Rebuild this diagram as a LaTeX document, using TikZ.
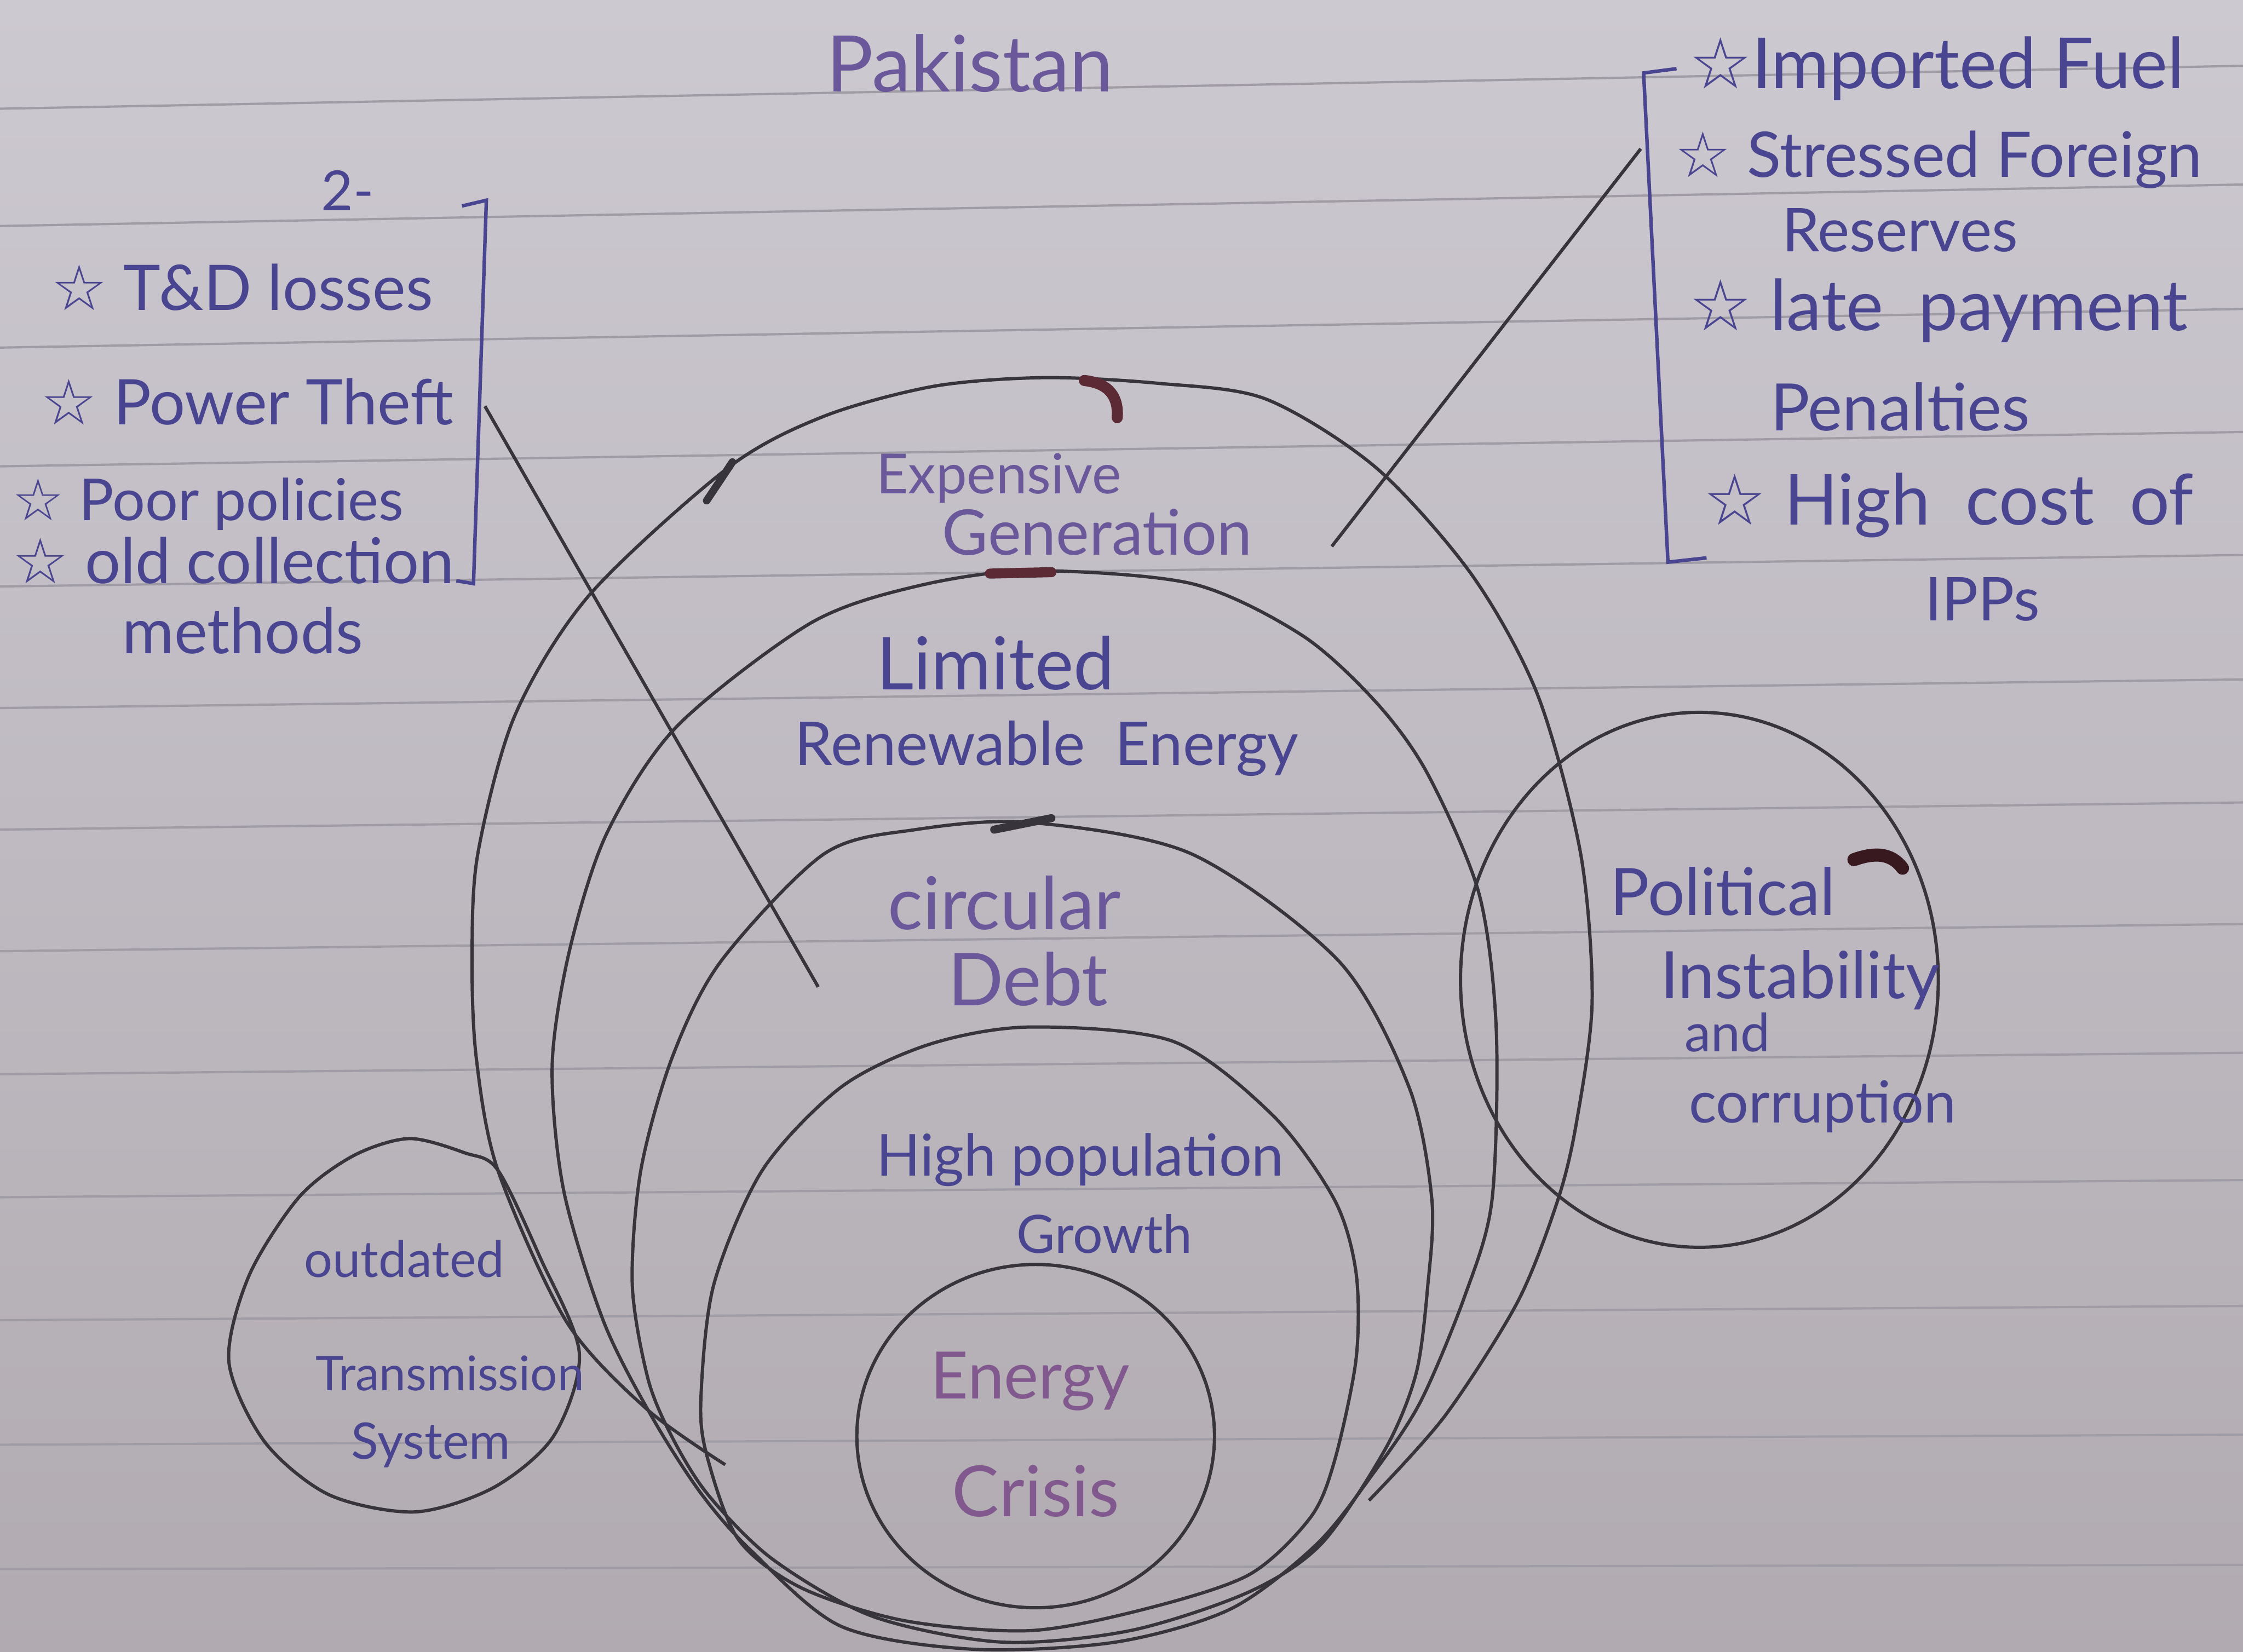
\documentclass[tikz,border=0pt]{standalone}
\usepackage{fontspec}
\setmainfont{Lato}
\newfontfamily\starfont{DejaVu Sans}
\usetikzlibrary{positioning}

\definecolor{paperTop}{HTML}{CDC9D1}
\definecolor{paperBot}{HTML}{B1ABB1}
\definecolor{ruleGray}{HTML}{A09CA6}
\definecolor{pencil}{HTML}{38343C}
\definecolor{inkBlue}{HTML}{4A4590}
\definecolor{inkViolet}{HTML}{6A589A}
\definecolor{inkPlum}{HTML}{82598F}
\definecolor{smudge}{HTML}{5C2A34}

\newcommand{\penfont}[1]{\fontsize{#1}{#1}\selectfont}
\newcommand{\bul}{{\starfont ☆}}

\tikzset{
  ruled/.style={ruleGray, line width=0.45pt},
  pen/.style={pencil, line width=0.65pt},
  inkline/.style={inkBlue, line width=0.7pt},
  lbl/.style={anchor=base west, inner sep=0pt, text=inkBlue},
}

\begin{document}
\begin{tikzpicture}[x=0.01cm,y=-0.01cm]
 \useasboundingbox (0,0) rectangle (1568,1154.7);
 \shade[top color=paperTop, bottom color=paperBot] (0,0) rectangle (1568,1154.7);
 \foreach \ya/\yb in {76/46,158/129,243/216,326/302,410/388,495/475,580/561,665/646,751/736,837/825,923/913,1010/1003,1097/1094}
   \draw[ruled] (0,\ya) -- (1568,\yb);

 % nested rings
 \draw[pen] plot[smooth] coordinates {(507,1024) (452,985) (396,924) (348,818) (333,740) (330,670) (334,597) (360,500) (412,416) (509,327) (576,291) (653,270) (730,264) (810,268) (885,279) (962,327) (1029,402) (1075,486) (1105,597) (1113,700) (1102,785) (1089,839) (1061,910) (1010,990) (957,1049)};
 \draw[pen] plot[smooth cycle] coordinates {(720,399) (833,408) (910,444) (962,491) (998,541) (1034,625) (1046,720) (1043,839) (1024,906) (993,980) (960,1030) (920,1080) (860,1125) (780,1148) (680,1153) (588,1137) (525,1084) (490,1044) (456,991) (422,924) (394,832) (386,745) (398,665) (424,583) (473,508) (566,436) (640,410)};
 \draw[pen] plot[smooth cycle] coordinates {(720,575) (833,597) (936,672) (985,760) (1001,839) (998,900) (990,960) (969,1012) (924,1079) (873,1113) (790,1140) (700,1148) (610,1130) (540,1090) (495,1045) (470,1005) (453,964) (442,898) (448,818) (470,739) (504,672) (576,597) (640,580)};
 \draw[pen] plot[smooth cycle] coordinates {(720,718) (820,728) (890,780) (933,839) (948,890) (948,950) (933,1021) (916,1061) (873,1101) (800,1125) (720,1140) (632,1133) (560,1110) (516,1076) (494,1017) (490,977) (499,898) (533,818) (588,760) (650,730)};
 \draw[pen] (724,1004) ellipse [x radius=125, y radius=120];

 % side circles
 \draw[pen] (1188,685) ellipse [x radius=167, y radius=187];
 \draw[pen] plot[smooth cycle] coordinates {(160,952) (174,892) (209,837) (247,808) (286,796) (325,806) (348,818) (378,880) (405,946) (387,1004) (345,1040) (290,1057) (230,1045) (185,1008)};

 % ink smudges
 \draw[smudge, line width=2.2pt, line cap=round] (758,266) .. controls (776,268) and (782,278) .. (781,292);
 \draw[smudge, line width=2pt, line cap=round] (692,401) -- (735,400);
 \draw[pencil, line width=1.6pt, line cap=round] (695,580) -- (735,572);
 \draw[pencil, line width=1.5pt, line cap=round] (494,350) -- (512,323);
 \draw[smudge!60!black, line width=2.6pt, line cap=round] (1296,601) .. controls (1310,596) and (1322,596) .. (1330,607);

 % brackets and pointers
 \coordinate (lbTop) at (340,140);
 \coordinate (lbBot) at (331,408);
 \draw[inkline] (323,144) -- (lbTop) -- (lbBot) -- (319,406);
 \coordinate (rbTop) at (1149,51);
 \coordinate (rbBot) at (1166,393);
 \draw[inkline] (1172,48) -- (rbTop) -- (rbBot) -- (1193,390);
 \coordinate (theftTip) at (339,284);
 \coordinate (debtTip) at (572,690);
 \draw[pen] (theftTip) -- (debtTip);
 \coordinate (genTip) at (931,382);
 \coordinate (rbTip) at (1147,104);
 \draw[pen] (genTip) -- (rbTip);

 % titles and lists
 \node[lbl, text=inkViolet, font=\penfont{15.5}] (pak) at (577,64) {Pakistan};
 \node[lbl, font=\penfont{11}] (two) at (224,147) {2-};
 \node[lbl, font=\penfont{12.5}] (tdl) at (35,217) {\bul\ T\&D losses};
 \node[lbl, font=\penfont{12.5}] (theft) at (28,297) {\bul\ Power Theft};
 \node[lbl, font=\penfont{11.5}] (policy) at (8,364) {\bul\ Poor policies};
 \node[lbl, font=\penfont{12.5}] (collect) at (8,408) {\bul\ old collection};
 \node[lbl, font=\penfont{12.5}] (method) at (85,457) {methods};
 \node[lbl, font=\penfont{14}] (fuel) at (1180,62) {\bul Imported Fuel};
 \node[lbl, font=\penfont{12.5}] (forex) at (1170,124) {\bul\ Stressed Foreign};
 \node[lbl, font=\penfont{12}] (reserve) at (1245,176) {Reserves};
 \node[lbl, font=\penfont{14}] (latepay) at (1180,231) {\bul\ late\enspace payment};
 \node[lbl, font=\penfont{13}] (penalty) at (1237,301) {Penalties};
 \node[lbl, font=\penfont{14}] (highcost) at (1190,367) {\bul\ High\enspace cost\enspace of};
 \node[lbl, font=\penfont{12}] (ipp) at (1345,434) {IPPs};

 % ring labels
 \node[lbl, text=inkViolet, font=\penfont{11}] (exp) at (612,345) {Expensive};
 \node[lbl, text=inkViolet, font=\penfont{12.5}] (gen) at (658,388) {Generation};
 \node[lbl, font=\penfont{14.5}] (lim) at (612,482) {Limited};
 \node[lbl, font=\penfont{12}] (renew) at (555,535) {Renewable\enspace Energy};
 \node[lbl, text=inkViolet, font=\penfont{14.5}] (circ) at (620,650) {circular};
 \node[lbl, text=inkViolet, font=\penfont{14.5}] (debt) at (662,703) {Debt};
 \node[lbl, font=\penfont{11.5}] (pop) at (612,822) {High population};
 \node[lbl, font=\penfont{10.5}] (growth) at (710,876) {Growth};
 \node[lbl, text=inkPlum, font=\penfont{13}] (energy) at (650,978) {Energy};
 \node[lbl, text=inkPlum, font=\penfont{14}] (crisis) at (665,1060) {Crisis};
 \node[lbl, font=\penfont{13}] (pol) at (1125,640) {Political};
 \node[lbl, font=\penfont{13}] (instab) at (1160,698) {Instability};
 \node[lbl, font=\penfont{10.5}] (andw) at (1177,735) {and};
 \node[lbl, font=\penfont{11.5}] (corrupt) at (1180,785) {corruption};
 \node[lbl, font=\penfont{10}] (outd) at (212,893) {outdated};
 \node[lbl, font=\penfont{9.5}] (trans) at (220,972) {Transmission};
 \node[lbl, font=\penfont{10}] (sys) at (245,1020) {System};
\end{tikzpicture}
\end{document}
